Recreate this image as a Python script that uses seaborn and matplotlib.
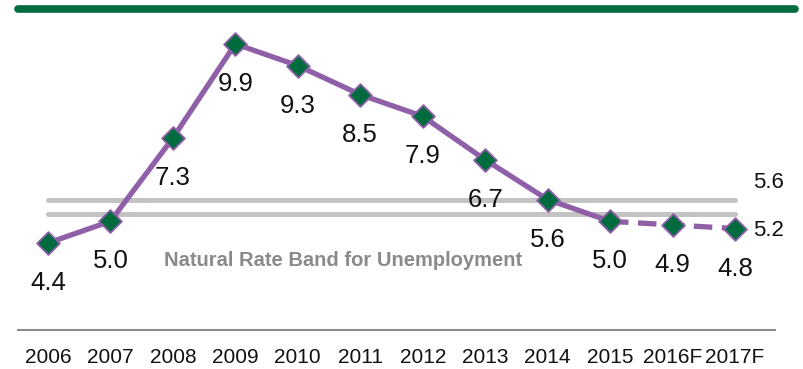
import matplotlib
matplotlib.use("Agg")
import matplotlib.pyplot as plt
import seaborn as sns
import pandas as pd
from matplotlib.lines import Line2D

years = ["2006", "2007", "2008", "2009", "2010", "2011", "2012", "2013",
         "2014", "2015", "2016F", "2017F"]
rates = [4.4, 5.0, 7.3, 9.9, 9.3, 8.5, 7.9, 6.7, 5.6, 5.0, 4.9, 4.8]
band = [5.6, 5.2]
band_label = "Natural Rate Band for Unemployment"
n_actual = 10  # 2006..2015 are actuals, the rest are forecasts

purple = "#8f5fa8"
green = "#006b3f"
band_gray = "#c3c3c3"

sns.set_theme(style="white")
plt.rcParams["font.family"] = ["Liberation Sans", "DejaVu Sans"]

df = pd.DataFrame({"idx": range(len(years)), "year": years, "rate": rates})
actual = df.iloc[:n_actual]
forecast = df.iloc[n_actual - 1:]

fig = plt.figure(figsize=(8.04, 3.69), dpi=100)
W, H = 804, 369
ax = fig.add_axes([18 / W, (H - 330) / H, (775 - 18) / W, 330 / H])

# band lines
for b in band:
    ax.plot([0, len(years) - 1], [b, b], color=band_gray, lw=3.6,
            solid_capstyle="round", zorder=1)

sns.lineplot(data=actual, x="idx", y="rate", ax=ax, color=purple, lw=3.8, zorder=2)
sns.lineplot(data=forecast, x="idx", y="rate", ax=ax, color=purple, lw=3.8,
             linestyle=(0, (3.5, 1.8)), zorder=2)
sns.scatterplot(data=df, x="idx", y="rate", ax=ax, marker="D", s=135,
                color=green, edgecolor=purple, linewidth=1.3, zorder=3)

for i, v in enumerate(rates):
    ax.annotate(f"{v:.1f}", (i, v), xytext=(0, -40), textcoords="offset pixels",
                ha="center", va="center", fontsize=18.5, color="#111111")

ax.annotate(f"{band[0]:.1f}", (len(years) - 1, band[0]), xytext=(18, 17),
            textcoords="offset pixels", ha="left", va="center", fontsize=16,
            color="#111111")
ax.annotate(f"{band[1]:.1f}", (len(years) - 1, band[1]), xytext=(18, -16),
            textcoords="offset pixels", ha="left", va="center", fontsize=16,
            color="#111111")

ax.text(4.72, 3.93, band_label, ha="center", va="center", fontsize=14.5,
        fontweight="bold", color="#8a8a8a")

ax.set_xlim(-0.48, 11.641)
ax.set_ylim(1.997, 11.113)
ax.set_xticks(range(len(years)))
ax.set_xticklabels(years, fontsize=15, color="#111111")
ax.tick_params(axis="x", length=0, pad=13)
ax.set_yticks([])
ax.set_xlabel("")
ax.set_ylabel("")
for s in ["top", "left", "right"]:
    ax.spines[s].set_visible(False)
ax.spines["bottom"].set_color("#8c8c8c")
ax.spines["bottom"].set_linewidth(1.5)

# green rule across the top
fig.add_artist(Line2D([18 / W, 795 / W], [(H - 8.5) / H] * 2,
                      transform=fig.transFigure, color=green, lw=5.5))

fig.savefig("out.png", dpi=100)
